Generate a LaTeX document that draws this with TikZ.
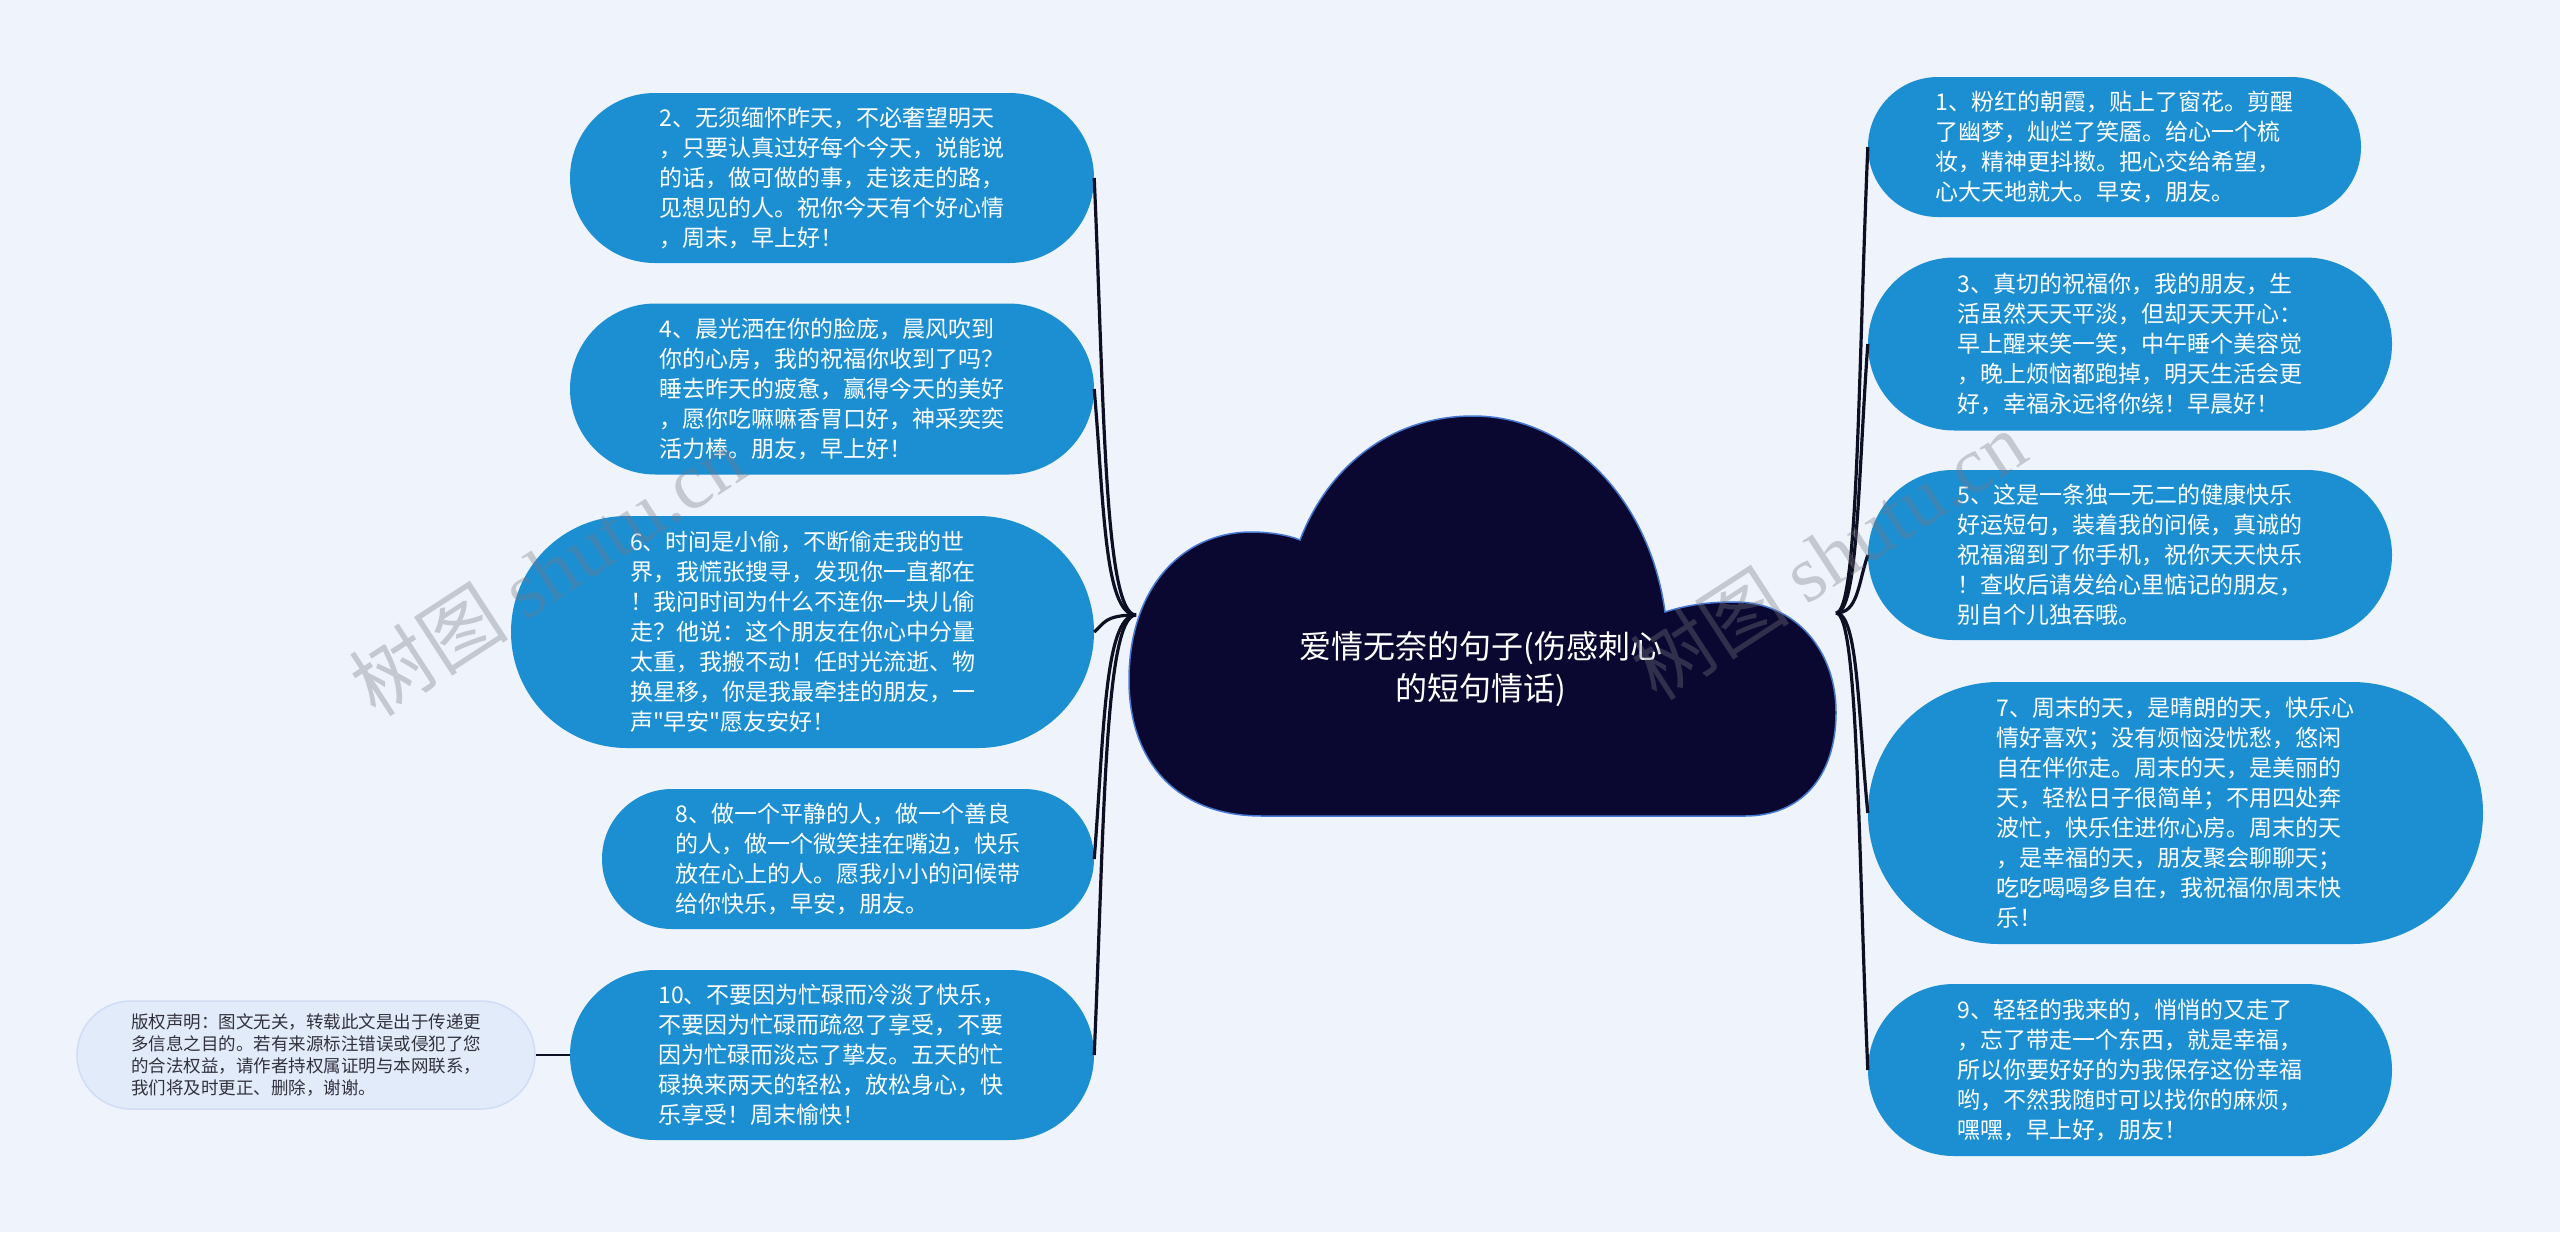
\documentclass[tikz,border=0pt]{standalone}
\usepackage{fontspec}
\newfontfamily\cjk{Noto Sans CJK SC}
\newfontfamily\wmserif{Liberation Serif}
\definecolor{bgc}{RGB}{238,243,252}
\definecolor{nodeblue}{RGB}{27,143,210}
\definecolor{cloudfill}{RGB}{10,8,48}
\definecolor{cloudedge}{RGB}{70,120,210}
\definecolor{linec}{RGB}{15,15,35}
\definecolor{copyfill}{RGB}{226,235,250}
\definecolor{copyedge}{RGB}{208,221,245}
\definecolor{copytext}{RGB}{50,50,60}
\definecolor{wmgray}{RGB}{120,120,130}
\begin{document}
\begin{tikzpicture}[x=1pt,y=-1pt,
  bubble/.style={fill=nodeblue, inner sep=0pt, text=white, align=left,
    font=\cjk\fontsize{23}{30}\selectfont},
  copybox/.style={fill=copyfill, draw=copyedge, line width=1.5pt, inner sep=0pt,
    text=copytext, align=left, font=\cjk\fontsize{17.5}{22.3}\selectfont},
  conn/.style={draw=linec, line width=3.2pt},
  wm/.style={text=wmgray, opacity=0.35, rotate=33, inner sep=0pt}
]
\useasboundingbox (0,0) rectangle (2560,1232);
\fill[bgc] (0,0) rectangle (2560,1232);

% named junction coordinates at the cloud
\coordinate (cloudL) at (1136,615);
\coordinate (cloudR) at (1836,613);

% left nodes
\node[bubble, minimum width=524pt, minimum height=170pt, rounded corners=84.9pt] (n2) at (832,178) {2、无须缅怀昨天，不必奢望明天\\，只要认真过好每个今天，说能说\\的话，做可做的事，走该走的路，\\见想见的人。祝你今天有个好心情\\，周末，早上好！};
\node[bubble, minimum width=524pt, minimum height=171pt, rounded corners=85.4pt] (n4) at (832,389) {4、晨光洒在你的脸庞，晨风吹到\\你的心房，我的祝福你收到了吗？\\睡去昨天的疲惫，赢得今天的美好\\，愿你吃嘛嘛香胃口好，神采奕奕\\活力棒。朋友，早上好！};
\node[bubble, minimum width=583pt, minimum height=232pt, rounded corners=115.9pt] (n6) at (802.5,632) {6、时间是小偷，不断偷走我的世\\界，我慌张搜寻，发现你一直都在\\！我问时间为什么不连你一块儿偷\\走？他说：这个朋友在你心中分量\\太重，我搬不动！任时光流逝、物\\换星移，你是我最牵挂的朋友，一\\声"早安"愿友安好！};
\node[bubble, minimum width=492pt, minimum height=140pt, rounded corners=69.9pt] (n8) at (848,859) {8、做一个平静的人，做一个善良\\的人，做一个微笑挂在嘴边，快乐\\放在心上的人。愿我小小的问候带\\给你快乐，早安，朋友。};
\node[bubble, minimum width=524pt, minimum height=170pt, rounded corners=84.9pt] (n10) at (832,1055) {10、不要因为忙碌而冷淡了快乐，\\不要因为忙碌而疏忽了享受，不要\\因为忙碌而淡忘了挚友。五天的忙\\碌换来两天的轻松，放松身心，快\\乐享受！周末愉快！};
\node[copybox, minimum width=458pt, minimum height=108pt, rounded corners=53.9pt] (copy) at (306,1055) {版权声明：图文无关，转载此文是出于传递更\\多信息之目的。若有来源标注错误或侵犯了您\\的合法权益，请作者持权属证明与本网联系，\\我们将及时更正、删除，谢谢。};

% right nodes
\node[bubble, minimum width=493pt, minimum height=140pt, rounded corners=69.9pt] (n1) at (2114.5,147) {1、粉红的朝霞，贴上了窗花。剪醒\\了幽梦，灿烂了笑靥。给心一个梳\\妆，精神更抖擞。把心交给希望，\\心大天地就大。早安，朋友。};
\node[bubble, minimum width=524pt, minimum height=173pt, rounded corners=86.4pt] (n3) at (2130,344) {3、真切的祝福你，我的朋友，生\\活虽然天天平淡，但却天天开心：\\早上醒来笑一笑，中午睡个美容觉\\，晚上烦恼都跑掉，明天生活会更\\好，幸福永远将你绕！早晨好！};
\node[bubble, minimum width=524pt, minimum height=170pt, rounded corners=84.9pt] (n5) at (2130,555) {5、这是一条独一无二的健康快乐\\好运短句，装着我的问候，真诚的\\祝福溜到了你手机，祝你天天快乐\\！查收后请发给心里惦记的朋友，\\别自个儿独吞哦。};
\node[bubble, minimum width=615pt, minimum height=262pt, rounded corners=130.9pt] (n7) at (2175.5,813) {7、周末的天，是晴朗的天，快乐心\\情好喜欢；没有烦恼没忧愁，悠闲\\自在伴你走。周末的天，是美丽的\\天，轻松日子很简单；不用四处奔\\波忙，快乐住进你心房。周末的天\\，是幸福的天，朋友聚会聊聊天；\\吃吃喝喝多自在，我祝福你周末快\\乐！};
\node[bubble, minimum width=524pt, minimum height=172pt, rounded corners=85.9pt] (n9) at (2130,1070) {9、轻轻的我来的，悄悄的又走了\\，忘了带走一个东西，就是幸福，\\所以你要好好的为我保存这份幸福\\哟，不然我随时可以找你的麻烦，\\嘿嘿，早上好，朋友！};

% connectors (left)
\draw[conn] (cloudL) .. controls (1104,615) and (1104,396) .. (n2.east);
\draw[conn] (cloudL) .. controls (1104,615) and (1104,502) .. (n4.east);
\draw[conn] (cloudL) .. controls (1104,615) and (1104,624) .. (n6.east);
\draw[conn] (cloudL) .. controls (1104,615) and (1104,737) .. (n8.east);
\draw[conn] (cloudL) .. controls (1104,615) and (1104,835) .. (n10.east);
% connectors (right)
\draw[conn] (cloudR) .. controls (1858,613) and (1858,380) .. (n1.west);
\draw[conn] (cloudR) .. controls (1858,613) and (1858,479) .. (n3.west);
\draw[conn] (cloudR) .. controls (1858,613) and (1858,584) .. (n5.west);
\draw[conn] (cloudR) .. controls (1858,613) and (1858,713) .. (n7.west);
\draw[conn] (cloudR) .. controls (1858,613) and (1858,842) .. (n9.west);
% copyright connector
\draw[conn, line width=2.4pt] (copy.east) -- (n10.west);

% cloud
\path[fill=cloudfill, draw=cloudedge, line width=1.5pt]
  (1262,816) .. controls (1175,816) and (1129,760) .. (1129,680)
  .. controls (1129,590) and (1180,533) .. (1250,532)
  .. controls (1270,532) and (1288,535) .. (1300,540)
  .. controls (1330,462) and (1395,416) .. (1473,416)
  .. controls (1570,416) and (1650,500) .. (1665,612)
  .. controls (1690,604) and (1712,602) .. (1735,602)
  .. controls (1795,602) and (1836,650) .. (1836,712)
  .. controls (1836,778) and (1800,816) .. (1745,816)
  -- cycle;
\node[text=white, align=center, inner sep=0pt, font=\cjk\fontsize{32}{42}\selectfont] (title) at (1481,669) {爱情无奈的句子(伤感刺心\\的短句情话)};

% watermarks
\node[wm] (wmL) at (547,571) {\cjk\fontsize{80}{80}\selectfont 树图\ \wmserif shutu.cn};
\node[wm] (wmR) at (1828,555) {\cjk\fontsize{80}{80}\selectfont 树图\ \wmserif shutu.cn};
\end{tikzpicture}
\end{document}
